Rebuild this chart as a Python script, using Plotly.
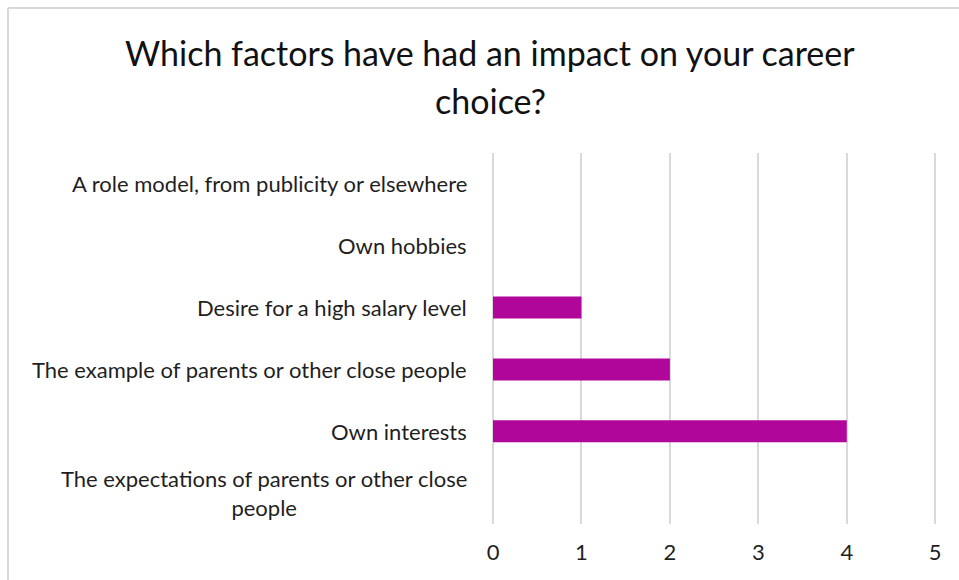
import plotly.graph_objects as go

# Survey answers: how many respondents named each factor
categories = [
    "A role model, from publicity or elsewhere",
    "Own hobbies",
    "Desire for a high salary level",
    "The example of parents or other close people",
    "Own interests",
    "The expectations of parents or other close<br>people",
]
counts = [0, 0, 1, 2, 4, 0]
x_ticks = [0, 1, 2, 3, 4, 5]

title_lines = ["Which factors have had an impact on your career", "choice?"]

BAR = "#B0069A"
GRID = "#D9D9D9"
TEXT = "#1f1f1f"
FONT = "Lato"

W, H = 959, 580
L, R, T, B = 493, 22, 153, 56
pw, ph = W - L - R, H - T - B
XMAX = 5.02

fig = go.Figure()
fig.add_trace(go.Bar(
    y=categories,
    x=counts,
    orientation="h",
    width=0.355,
    marker=dict(color=BAR, line=dict(width=0)),
    hoverinfo="x+y",
))

# Category labels, right-aligned beside the plot, wrapped lines centred
annotations = []
for c in categories:
    annotations.append(dict(
        x=-24 / pw, xref="paper", y=c, yref="y",
        text=c, showarrow=False, xanchor="right", yanchor="middle",
        align="center", font=dict(family=FONT, size=22, color=TEXT),
    ))

# Two-line title
for line, ypx in zip(title_lines, [52, 100]):
    annotations.append(dict(
        x=(490 - L) / pw, xref="paper", y=(H - B - ypx) / ph, yref="paper",
        text=line, showarrow=False, xanchor="center", yanchor="middle",
        font=dict(family=FONT, size=34, color="#111111"),
    ))

# Light chart border along the top and left edges
bx = (8 - L) / pw
by = (H - B - 8) / ph
shapes = [
    dict(type="line", xref="paper", yref="paper", x0=bx, x1=bx, y0=by, y1=-B / ph - 0.01,
         line=dict(color=GRID, width=2)),
    dict(type="line", xref="paper", yref="paper", x0=bx, x1=(W - L) / pw + 0.01, y0=by, y1=by,
         line=dict(color=GRID, width=2)),
]

fig.update_layout(
    width=W, height=H,
    margin=dict(l=L, r=R, t=T, b=B, pad=0),
    paper_bgcolor="white", plot_bgcolor="white",
    showlegend=False,
    annotations=annotations,
    shapes=shapes,
    xaxis=dict(
        range=[0, XMAX], tickvals=x_ticks, ticktext=[str(v) for v in x_ticks],
        showgrid=True, gridcolor=GRID, gridwidth=1.5,
        zeroline=True, zerolinecolor=GRID, zerolinewidth=1.5,
        showline=False, ticks="", ticklabelstandoff=13,
        tickfont=dict(family=FONT, size=22, color=TEXT),
        fixedrange=True,
    ),
    yaxis=dict(
        categoryorder="array", categoryarray=categories, autorange="reversed",
        showticklabels=False, showgrid=False, zeroline=False, showline=False,
        fixedrange=True,
    ),
)

fig.write_html("out.html")
